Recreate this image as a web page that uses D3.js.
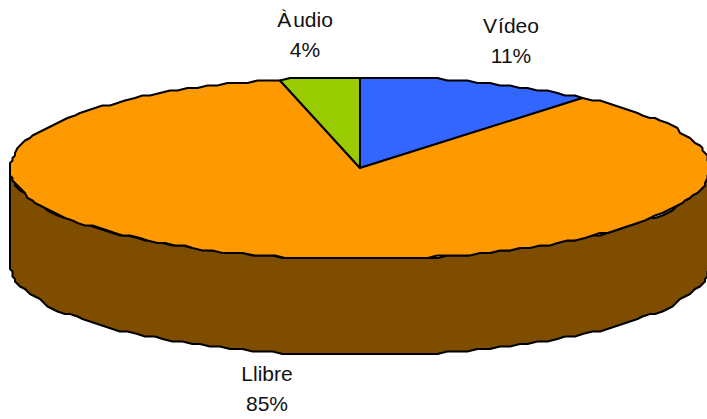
<!DOCTYPE html>
<html><head><meta charset="utf-8">
<script src="https://cdn.jsdelivr.net/npm/d3@7/dist/d3.min.js"></script>
<style>html,body{margin:0;padding:0;background:#fff;overflow:hidden}svg{display:block}
text{font-family:"Liberation Sans",Arial,sans-serif;font-size:21px;fill:#111;text-anchor:middle}</style>
</head><body><svg id="c" width="707" height="419"></svg>
<script>
const categories = ["Vídeo", "Llibre", "Àudio"];
const values = [11, 85.3, 3.7];
const valueLabels = ["11%", "85%", "4%"];
const colors = ["#3366FF", "#FF9900", "#99CC00"];
const sideColor = "#7F4D00";

const W = 707, H = 419, cx = 360, cy = 168, rx = 350, ry = 91, depth = 96, grain = 2.5, step = Math.PI / 100;
const labelAt = [[511, 33], [267, 381], [305, 27]];
const letterGap = [1, 0, 2];
const svg = d3.select("#c");

const pie = d3.pie().sort(null).value(d => d).startAngle(0).endAngle(2 * Math.PI);
const arcs = pie(values);

// The rim is a coarse, pixel-stepped polyline, as in the low-resolution original
const snap = v => Math.round(v / grain) * grain;
const rimPoint = (a, dy = 0) => [cx + snap(rx * Math.sin(a)), cy + snap(-ry * Math.cos(a)) + dy];
const rimRun = (a0, a1, dy = 0) => {
  const n = Math.max(1, Math.round(Math.abs(a1 - a0) / step));
  return d3.range(n + 1).map(i => rimPoint(a0 + (a1 - a0) * i / n, dy));
};
const line = d3.line();

// Side wall
const front = rimRun(Math.PI / 2, 3 * Math.PI / 2);
const back = rimRun(3 * Math.PI / 2, Math.PI / 2, depth);
svg.append("path").attr("d", line(front.concat(back)) + "Z")
  .attr("fill", sideColor).attr("stroke", "#000").attr("stroke-width", 2).attr("stroke-linejoin", "round");

// Top slices
svg.selectAll("path.slice").data(arcs).join("path").attr("class", "slice")
  .attr("d", d => line([[cx, cy]].concat(rimRun(d.startAngle, d.endAngle))) + "Z")
  .attr("fill", (d, i) => colors[i])
  .attr("stroke", "#000").attr("stroke-width", 2).attr("stroke-linejoin", "round");

// Labels
const labels = svg.selectAll("g.label").data(categories).join("g").attr("class", "label")
  .attr("transform", (d, i) => `translate(${labelAt[i][0]},${labelAt[i][1]})`);
labels.append("text").each(function (d, i) {
  const t = d3.select(this);
  t.append("tspan").style("letter-spacing", letterGap[i] + "px").text(d.slice(0, 1));
  t.append("tspan").text(d.slice(1));
});
labels.append("text").attr("y", 30).text((d, i) => valueLabels[i]);
</script></body></html>
